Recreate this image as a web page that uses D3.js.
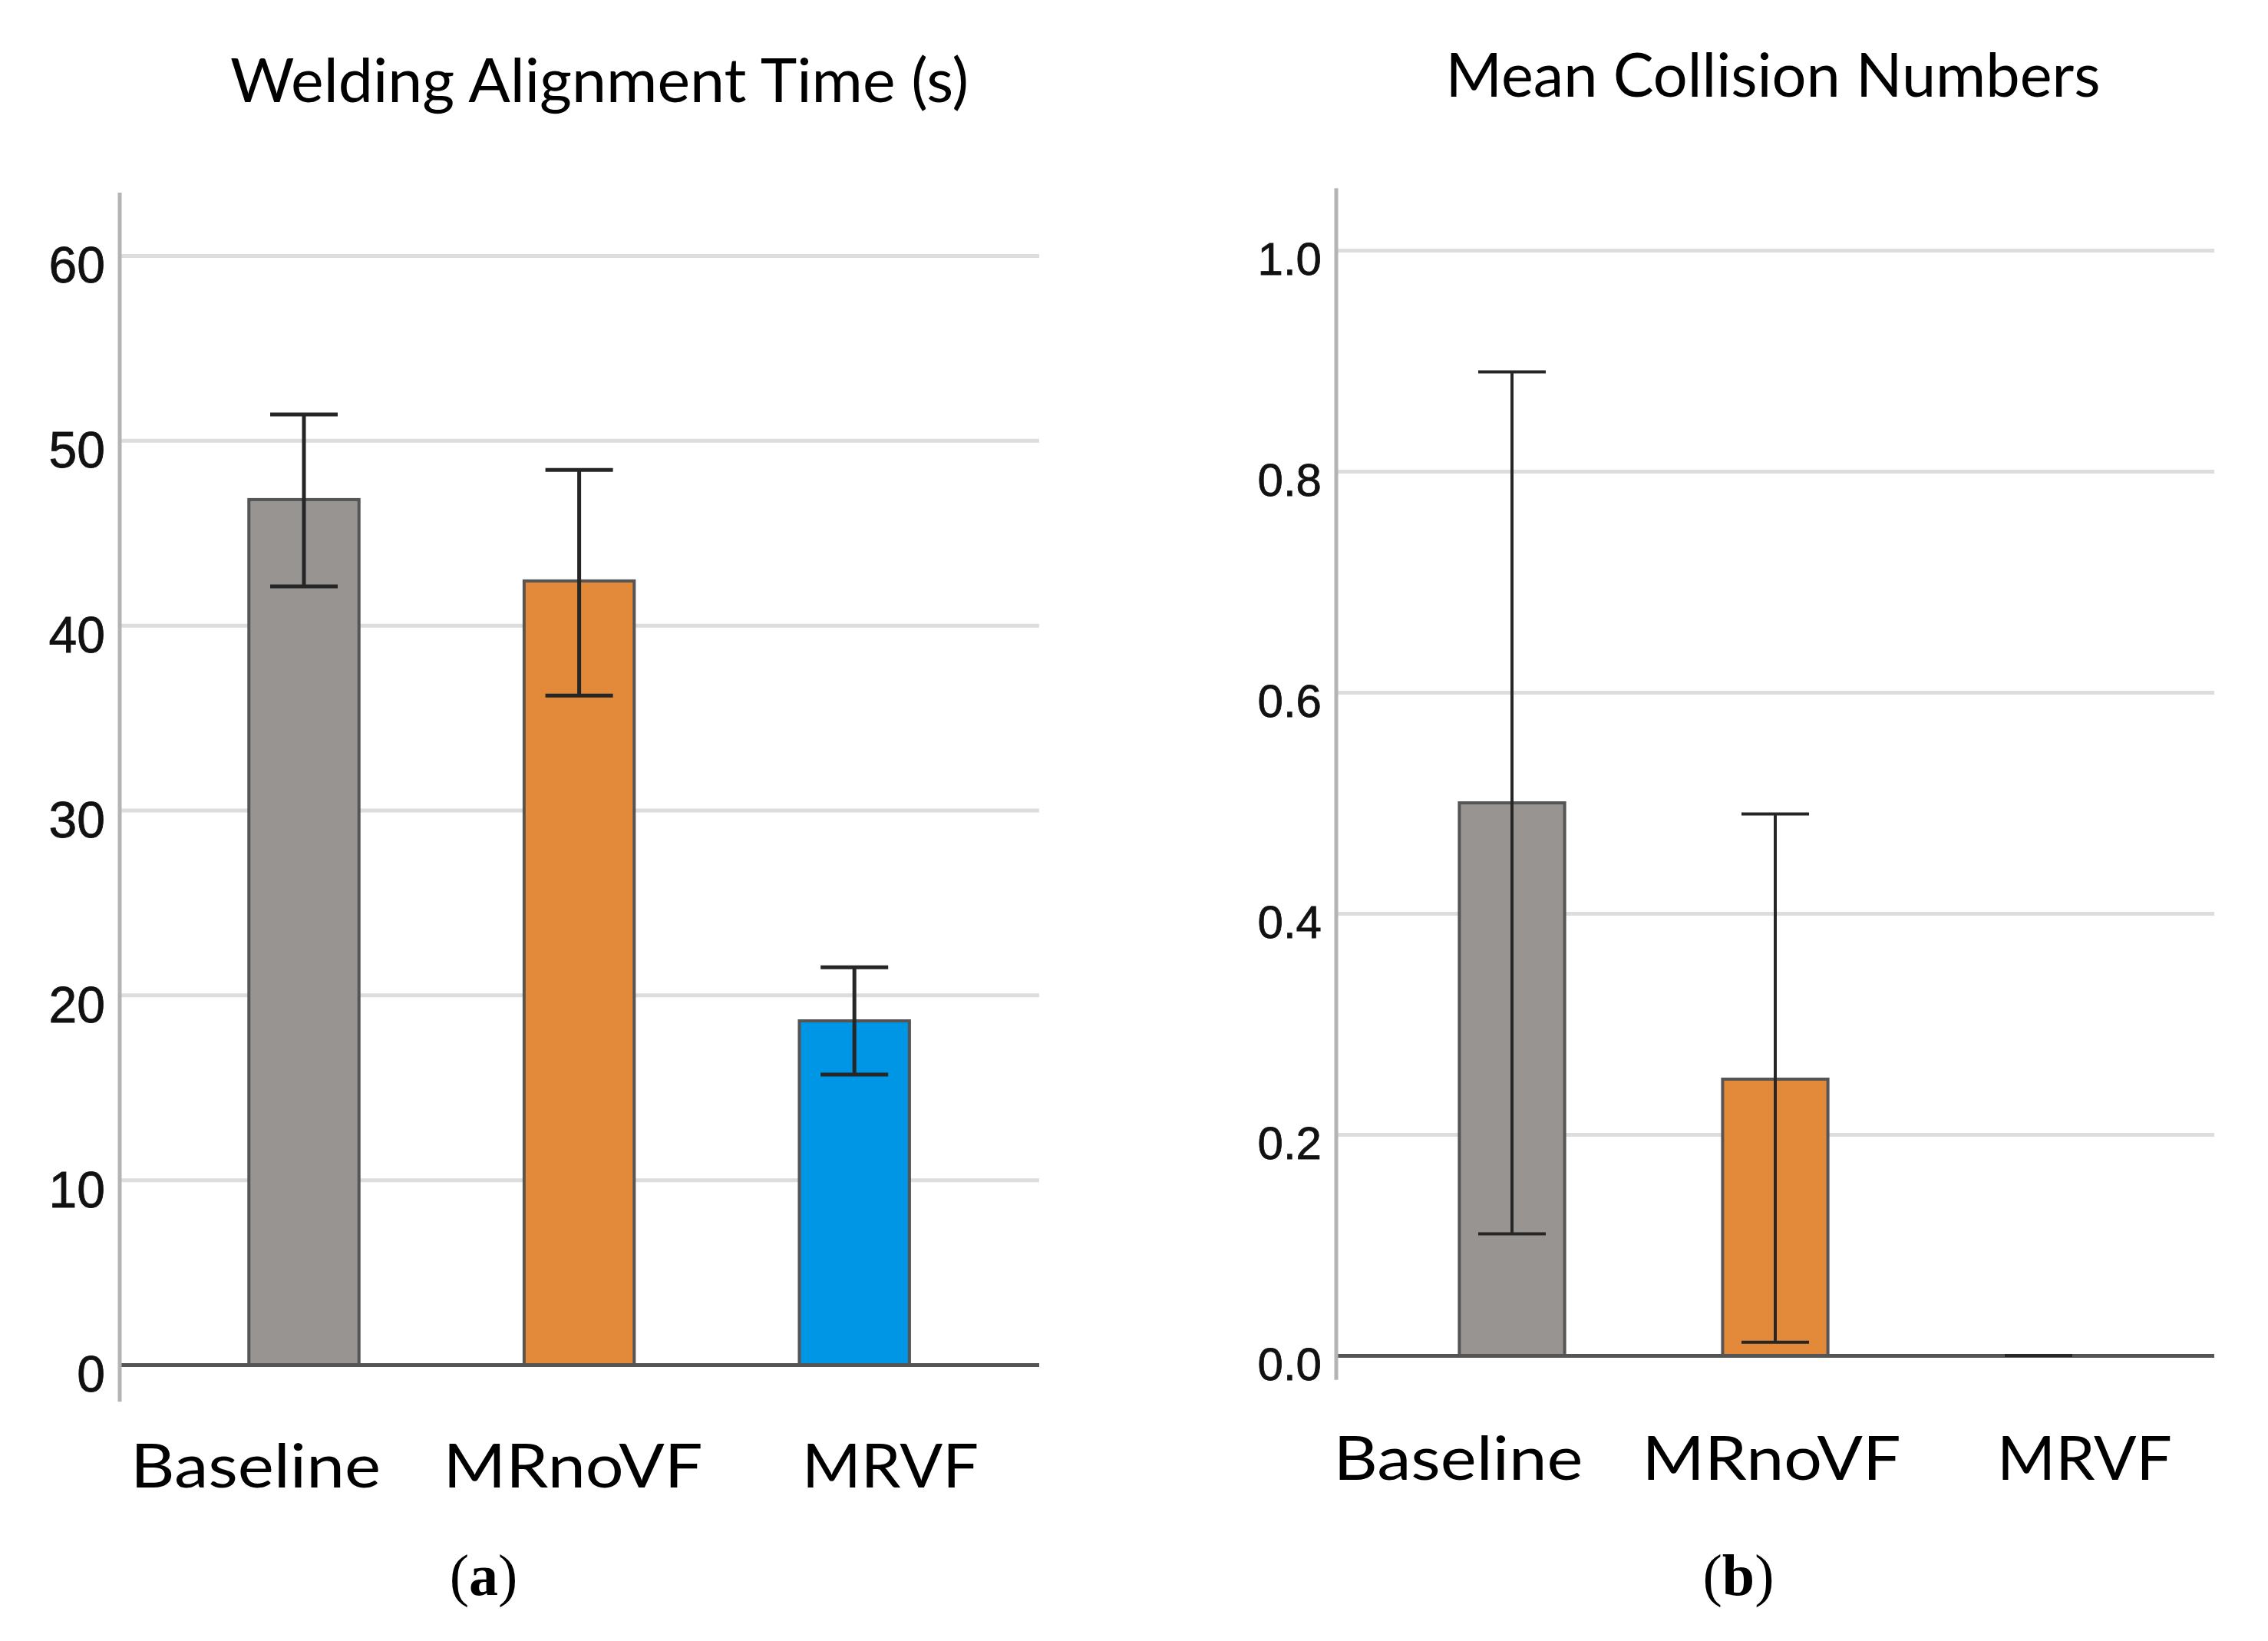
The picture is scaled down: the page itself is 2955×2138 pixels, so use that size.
<!DOCTYPE html>
<html>
<head>
<meta charset="utf-8">
<script src="https://cdn.jsdelivr.net/npm/d3@7"></script>
<style>
  body { margin: 0; background: #fff; }
  svg { display: block; }
</style>
</head>
<body>
<svg id="chart" width="2955" height="2138"></svg>
<script>
// categories and values
var categories = ["Baseline", "MRnoVF", "MRVF"];
var barColors = ["#989492", "#e2893a", "#0096e6"];

var timeMeans = [46.8, 42.4, 18.6];
var timeUpper = [51.4, 48.4, 21.5];
var timeLower = [42.1, 36.2, 15.7];
var timeTicks = [0, 10, 20, 30, 40, 50, 60];

var collisionMeans = [0.5, 0.25, 0];
var collisionUpper = [0.89, 0.49, 0];
var collisionLower = [0.11, 0.012, 0];
var collisionTicks = [0, 0.2, 0.4, 0.6, 0.8, 1.0];

var svg = d3.select("#chart");
svg.append("rect").attr("width", 2955).attr("height", 2138).attr("fill", "#fff");

function drawPanel(p) {
  var g = svg.append("g");

  var y = d3.scaleLinear().domain([0, p.ticks[p.ticks.length - 1]]).range(p.yRange);
  var x = d3.scaleBand().domain(categories).range(p.xRange)
    .paddingInner(0.6).paddingOuter(0.3);
  var xl = d3.scalePoint().domain(categories).range(p.labelRange);

  // gridlines + tick labels
  var axis = d3.axisLeft(y).tickValues(p.ticks)
    .tickSize(-(p.gridRight - p.axisX))
    .tickPadding(19)
    .tickFormat(p.fmt);
  var ag = g.append("g").attr("transform", "translate(" + p.axisX + ",0)").call(axis);
  ag.select(".domain").remove();
  ag.selectAll(".tick line").attr("stroke", "#dddddd").attr("stroke-width", 5);
  ag.selectAll(".tick text")
    .attr("dy", "0.53em")
    .attr("fill", "#111")
    .attr("stroke", "#111").attr("stroke-width", 0.8)
    .style("font-family", "Liberation Sans, Arial, sans-serif")
    .style("font-size", p.tickFont + "px");

  // bars
  g.selectAll("rect.bar").data(p.means).enter().append("rect")
    .attr("class", "bar")
    .attr("x", function(d, i) { return x(categories[i]); })
    .attr("y", function(d) { return y(d); })
    .attr("width", x.bandwidth())
    .attr("height", function(d) { return y(0) - y(d); })
    .attr("fill", function(d, i) { return barColors[i]; })
    .attr("stroke", "#555")
    .attr("stroke-opacity", function(d) { return d > 0 ? 1 : 0; })
    .attr("stroke-width", 4);

  // zero baseline
  ag.selectAll(".tick").filter(function(d) { return d === 0; }).select("line")
    .attr("stroke", "#555").attr("stroke-width", 5);
  ag.selectAll(".tick").filter(function(d) { return d === 0; }).raise();
  ag.raise();
  g.selectAll("rect.bar").raise();

  // y axis line
  g.append("line")
    .attr("x1", p.axisX).attr("x2", p.axisX)
    .attr("y1", y(p.axisTop)).attr("y2", y(p.axisBottom))
    .attr("stroke", "#b4b4b4").attr("stroke-width", 5);

  // error bars
  var cap = 88;
  var eb = g.selectAll("g.err").data(p.means).enter().append("g").attr("class", "err")
    .attr("stroke", "#262626").attr("stroke-width", p.errWidth);
  eb.append("line")
    .attr("x1", function(d, i) { return x(categories[i]) + x.bandwidth() / 2; })
    .attr("x2", function(d, i) { return x(categories[i]) + x.bandwidth() / 2; })
    .attr("y1", function(d, i) { return y(p.upper[i]); })
    .attr("y2", function(d, i) { return y(p.lower[i]); });
  eb.append("line")
    .attr("x1", function(d, i) { return x(categories[i]) + x.bandwidth() / 2 - cap / 2; })
    .attr("x2", function(d, i) { return x(categories[i]) + x.bandwidth() / 2 + cap / 2; })
    .attr("y1", function(d, i) { return y(p.upper[i]); })
    .attr("y2", function(d, i) { return y(p.upper[i]); });
  eb.append("line")
    .attr("x1", function(d, i) { return x(categories[i]) + x.bandwidth() / 2 - cap / 2; })
    .attr("x2", function(d, i) { return x(categories[i]) + x.bandwidth() / 2 + cap / 2; })
    .attr("y1", function(d, i) { return y(p.lower[i]); })
    .attr("y2", function(d, i) { return y(p.lower[i]); });

  // category labels
  g.selectAll("text.cat").data(categories).enter().append("text")
    .attr("class", "cat")
    .attr("x", function(d) { return xl(d); })
    .attr("y", p.labelY)
    .attr("text-anchor", "middle")
    .attr("textLength", function(d, i) { return p.labelWidths[i]; })
    .attr("lengthAdjust", "spacingAndGlyphs")
    .style("font-family", "Lato, 'Open Sans', sans-serif")
    .style("font-size", "80px")
    .text(function(d) { return d; });

  // title
  g.append("text")
    .attr("x", p.titleX).attr("y", p.titleY)
    .attr("text-anchor", "middle")
    .attr("textLength", p.titleWidth)
    .attr("lengthAdjust", "spacingAndGlyphs")
    .style("font-family", "Lato, 'Open Sans', sans-serif")
    .style("font-size", "80px")
    .text(p.title);

  // panel letter
  var pl = g.append("text")
    .attr("x", p.letterX).attr("y", 2078)
    .attr("text-anchor", "middle")
    .style("font-family", "'Liberation Serif', 'Times New Roman', serif")
    .style("font-size", "76px");
  pl.append("tspan").text("(");
  pl.append("tspan").attr("font-weight", "bold").text(p.letter);
  pl.append("tspan").text(")");
}

drawPanel({
  title: "Welding Alignment Time (s)", titleX: 781, titleY: 133, titleWidth: 962,
  means: timeMeans, upper: timeUpper, lower: timeLower, ticks: timeTicks,
  fmt: d3.format("d"), tickFont: 66,
  yRange: [1778, 333], axisX: 156, gridRight: 1354, axisTop: 63.4, axisBottom: -2,
  xRange: [216.7, 1292.5], labelRange: [333, 1160], labelY: 1938,
  labelWidths: [326, 338, 230], errWidth: 5,
  letter: "a", letterX: 630
});

drawPanel({
  title: "Mean Collision Numbers", titleX: 2310, titleY: 126, titleWidth: 853,
  means: collisionMeans, upper: collisionUpper, lower: collisionLower, ticks: collisionTicks,
  fmt: d3.format(".1f"), tickFont: 60,
  yRange: [1766, 326], axisX: 1741, gridRight: 2885, axisTop: 1.056, axisBottom: -0.022,
  xRange: [1798.5, 2827.5], labelRange: [1900, 2716], labelY: 1928,
  labelWidths: [325, 337, 228], errWidth: 4,
  letter: "b", letterX: 2265
});
</script>
</body>
</html>
